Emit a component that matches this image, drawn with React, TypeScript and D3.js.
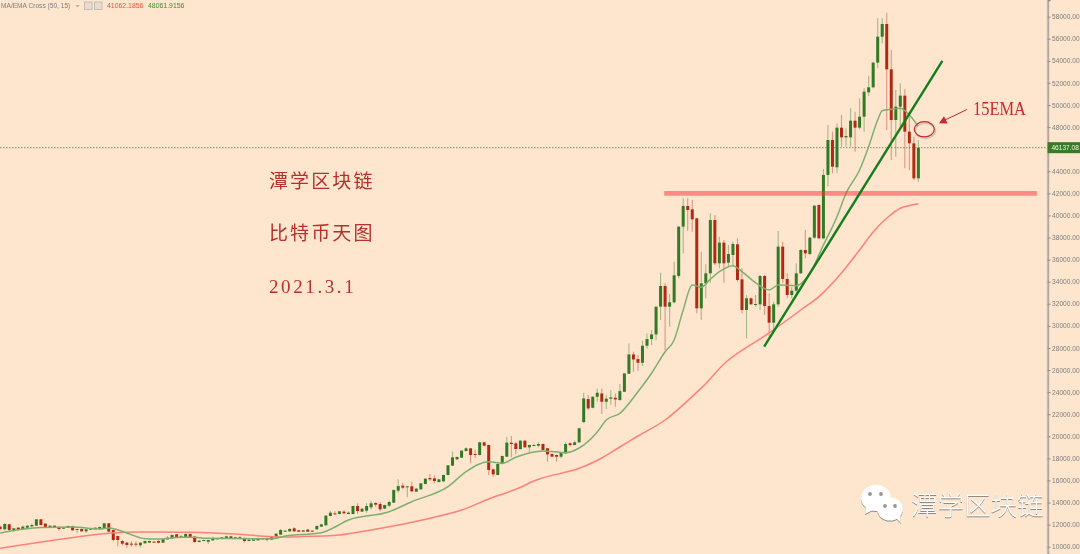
import { useEffect, useRef } from 'react';
import * as d3 from 'd3';

type Candle = [number, number, number, number];

const width = 1080;
const height = 554;

// open, high, low, close, one row per daily bar
const candles: Candle[] = [
  [11815, 11900, 11500, 11603], [11573, 12150, 11500, 12056], [12026, 12080, 11450, 11513], [11483, 11700, 11400, 11664],
  [11724, 11760, 11480, 11543], [11603, 11950, 11510, 11815], [11724, 11960, 11690, 11905], [11845, 12100, 11730, 11966],
  [11905, 12520, 11880, 12479], [12479, 12500, 11930, 11966], [12086, 12150, 11720, 11754], [11754, 11950, 11720, 11905],
  [11905, 11940, 11730, 11754], [11784, 11900, 11450, 11603], [11634, 11790, 11600, 11754], [11724, 11920, 11700, 11875],
  [11875, 11900, 11450, 11483], [11513, 11640, 11210, 11603], [11603, 11640, 11370, 11392], [11392, 11610, 11270, 11573],
  [11543, 11700, 11500, 11664], [11573, 11750, 11540, 11724], [11603, 11820, 11570, 11784], [11664, 12170, 11630, 12117],
  [12117, 12150, 11330, 11362], [11513, 11530, 10490, 10607], [10969, 11000, 10030, 10607], [10516, 10620, 10090, 10275],
  [10366, 10450, 9910, 10154], [10275, 10460, 10000, 10184], [10275, 10460, 10000, 10215], [10124, 10400, 9940, 10366],
  [10305, 10550, 10280, 10516], [10366, 10560, 10340, 10516], [10456, 10500, 10360, 10396], [10516, 10610, 10300, 10366],
  [10365, 10730, 10330, 10697], [10667, 10970, 10640, 10818], [10757, 11100, 10730, 11059], [11120, 11150, 10820, 10848],
  [10818, 11090, 10790, 10939], [10848, 11210, 10820, 11150], [11150, 11180, 10820, 10848], [10908, 11000, 10365, 10425],
  [10425, 10600, 10400, 10546], [10516, 10640, 10480, 10606], [10455, 10640, 10244, 10606], [10576, 10900, 10550, 10757],
  [10667, 10820, 10640, 10788], [10697, 10880, 10670, 10848], [10757, 10990, 10720, 10939], [10939, 10990, 10720, 10757],
  [10727, 10890, 10690, 10848], [10848, 10970, 10690, 10727], [10788, 10830, 10370, 10516], [10516, 10680, 10480, 10637],
  [10546, 10710, 10510, 10667], [10576, 10830, 10540, 10788], [10667, 10790, 10640, 10757], [10788, 10830, 10500, 10637],
  [10637, 10990, 10600, 10939], [10908, 11220, 10880, 11180], [11090, 11600, 11060, 11512], [11361, 11480, 11330, 11452],
  [11391, 11700, 11360, 11603], [11663, 11754, 11360, 11391], [11482, 11510, 11330, 11361], [11361, 11510, 11330, 11482],
  [11542, 11600, 11330, 11361], [11361, 11480, 11330, 11452], [11573, 11920, 11520, 11875], [11814, 12080, 11780, 12025],
  [11935, 12870, 11900, 12810], [12780, 13250, 12750, 13082], [13020, 13200, 12900, 12950], [12962, 13240, 12930, 13203],
  [13173, 13330, 12990, 13022], [12962, 13200, 12930, 13082], [12962, 13720, 12930, 13686], [13686, 13928, 12962, 13233],
  [13173, 13480, 13140, 13445], [13264, 13928, 13082, 13686], [13565, 14170, 13384, 13928], [13958, 14048, 13626, 13807],
  [13867, 14048, 13203, 13384], [13445, 13810, 13400, 13777], [13716, 14170, 13565, 14048], [13988, 15170, 13950, 15135],
  [15075, 16101, 14894, 15497], [15528, 15800, 15196, 15347], [15377, 15530, 14471, 15467], [15467, 15890, 14924, 15014],
  [14984, 15300, 14950, 15256], [15196, 15780, 15160, 15739], [15679, 16200, 15650, 16162], [16222, 16585, 15950, 16101],
  [16192, 16430, 15739, 15950], [15860, 16150, 15800, 16101], [15920, 16530, 15890, 16494], [16494, 17400, 16460, 17369],
  [17339, 18607, 17300, 18094], [17912, 18160, 17880, 18124], [18063, 18730, 18030, 18697], [18667, 19000, 18630, 18909],
  [18909, 18950, 17550, 18305], [18395, 18758, 18063, 18305], [18305, 19500, 18270, 19452], [19452, 19500, 19100, 19150],
  [19211, 19250, 16494, 16946], [17007, 17050, 16343, 16554], [16494, 17530, 16460, 17490], [17490, 18250, 17450, 18214],
  [18154, 19965, 18120, 19422], [19422, 20026, 18094, 19301], [19362, 19500, 18365, 18848], [18848, 19640, 18800, 19603],
  [19603, 19640, 18960, 19000], [19000, 19250, 18546, 19211], [19120, 19300, 19090, 19211], [19150, 19452, 19000, 19301],
  [19301, 19340, 18720, 18758], [18909, 18950, 17701, 18365], [18395, 18450, 18120, 18154], [18305, 18340, 17701, 18154],
  [18154, 18550, 18000, 18516], [18456, 19452, 18420, 19301], [19362, 19452, 19060, 19211], [19211, 19600, 19180, 19452],
  [19452, 20800, 19420, 20720], [21285, 23942, 21200, 23428], [23368, 23730, 22372, 22523], [22583, 23620, 22550, 23579],
  [23579, 24334, 23127, 23942], [23881, 24334, 22010, 23127], [23127, 23730, 22463, 23398], [23398, 24183, 22825, 23519],
  [23489, 23881, 22674, 23338], [23278, 24727, 23240, 24093], [24032, 25730, 24000, 25693], [25663, 28410, 25630, 27414],
  [27414, 27655, 25844, 26961], [26991, 27353, 25935, 26659], [26659, 28652, 26357, 28199], [28199, 29317, 27957, 28802],
  [28802, 29617, 28259, 29225], [29225, 31800, 28700, 31731], [31740, 34820, 30532, 33612], [33612, 33853, 27815, 31740],
  [31740, 32887, 29929, 32132], [32132, 35816, 32040, 34578], [34518, 39020, 34306, 38986], [38986, 41552, 36570, 40857],
  [40857, 41552, 38623, 40495], [40556, 41401, 38533, 39650], [39740, 39790, 31136, 31589], [31589, 36722, 30532, 33853],
  [33853, 35574, 32490, 34759], [34759, 40193, 33900, 39590], [39590, 40042, 35514, 35665], [35665, 38080, 35212, 37537],
  [37537, 37778, 33914, 35665], [35725, 37325, 35363, 36510], [36420, 37627, 35423, 37416], [37386, 37929, 34004, 34155],
  [34216, 35212, 31136, 31438], [31438, 32796, 28872, 32495], [32495, 32600, 31900, 31951], [31921, 32796, 31740, 31980],
  [31951, 34608, 31438, 34518], [34518, 34608, 30985, 31800], [31800, 32948, 29023, 30291], [30291, 32190, 29627, 31951],
  [31951, 38593, 31740, 37174], [37174, 37627, 33854, 34246], [34246, 34759, 32495, 32796], [32796, 33552, 32495, 33189],
  [33189, 35665, 32948, 34759], [34759, 36950, 34700, 36872], [36872, 38684, 36118, 36570], [36510, 38080, 36400, 37989],
  [37989, 40950, 37900, 40888], [40948, 41000, 37880, 37929], [37928, 44208, 37850, 43665], [43663, 48192, 42607, 46833],
  [46833, 47588, 43814, 44418], [44358, 48343, 43814, 47950], [47950, 49097, 46229, 47075], [47075, 47890, 46229, 47195],
  [47075, 49701, 46229, 48584], [48584, 49400, 45777, 47950], [47950, 50607, 47799, 48946], [48946, 51513, 47588, 51211],
  [51150, 52630, 50818, 51603], [51603, 53928, 51513, 53837], [53837, 57853, 53324, 56192], [56192, 57853, 55588, 57339],
  [57339, 58366, 47739, 53234], [53234, 54985, 45022, 48645], [48645, 51365, 45324, 49852], [49852, 51965, 47739, 50849],
  [50849, 51422, 44267, 47588], [47588, 48945, 44116, 46531], [46531, 47135, 43210, 43361], [43361, 46800, 43060, 46137],
];

// bar index, value
const ema15: [number, number][] = [
  [0, 11241], [9, 11739], [16, 11784], [22, 11603], [24, 11694], [28, 11241], [32, 10725], [35, 10697], [40, 10851],
  [43, 10851], [45, 10761], [57, 10725], [60, 10725], [63, 10969], [71, 11268], [73, 11576], [77, 12418], [86, 13170],
  [91, 14076], [99, 15434], [103, 16793], [108, 17698], [111, 17554], [114, 18097], [120, 18667], [125, 18514],
  [128, 18939], [132, 20389], [134, 21475], [137, 22082], [141, 24038], [144, 25705], [147, 27661], [149, 28721],
  [151, 31438], [153, 33702], [155, 33494], [157, 34218], [159, 34907], [162, 35450], [164, 34907], [167, 33910],
  [170, 33249], [172, 33702], [176, 33639], [179, 34762], [182, 37325], [185, 39888], [187, 42007], [190, 44118],
  [192, 46228], [194, 48646], [195, 49489], [197, 49615], [199, 49705], [201, 49099], [203, 48062],
];

const ma50: [number, number][] = [
  [0, 9855], [24, 11214], [33, 11331], [41, 11304], [52, 11150], [60, 10906], [66, 10906], [75, 11060], [82, 11512],
  [91, 12210], [102, 13324], [108, 14320], [114, 15199], [119, 16104], [128, 17101], [133, 18034], [137, 19030],
  [141, 20026], [147, 21475], [155, 24373], [161, 26909], [170, 29355], [177, 31438], [181, 32643],
  [186, 34789], [190, 36872], [193, 38503], [196, 39743], [199, 40649], [203, 41062],
];

// hand drawn annotations: bar index, price
const trendLine: [number, number][] = [[168.9, 28114], [208.3, 53990]];
const supportPrice = 42000;
const supportFrom = 146.8;
const supportTo = 229.2;
const lastPrice = 46137.08;
const priceTicks = d3.range(10000, 58001, 2000);

const titleLines = ['潭学区块链', '比特币天图'];
const dateLabel = '2021.3.1';
const indicatorName = 'MA/EMA Cross (50, 15)';
const maLabel = '41062.1856';
const emaLabel = '48061.9156';

const upColor = '#337a24';
const downColor = '#b02a12';
const annotationRed = '#c62a2f';

function drawChart(svgElement: SVGSVGElement) {
  const svg = d3.select(svgElement);
  svg.selectAll('*').remove();
  svg.attr('viewBox', `0 0 ${width} ${height}`);

  const x = d3.scaleLinear().domain([0, 203]).range([0.2, 918.4]);
  const y = d3.scaleLinear().domain([9339, 59512]).range([554, 0]);
  const axisX = 1047.6;
  const bodyWidth = 3;
  const soft = 'blur(0.35px)';

  svg.append('rect').attr('width', width).attr('height', height).attr('fill', '#fde5ce');

  // last price line
  svg
    .append('line')
    .attr('x1', 0)
    .attr('x2', axisX)
    .attr('y1', y(lastPrice))
    .attr('y2', y(lastPrice))
    .attr('stroke', '#5f7f4c')
    .attr('stroke-width', 0.8)
    .attr('stroke-dasharray', '1.5 1.5');

  const bars = svg.append('g').style('filter', soft).selectAll('g').data(candles).join('g');

  bars
    .append('line')
    .attr('x1', (_: Candle, i: number) => x(i))
    .attr('x2', (_: Candle, i: number) => x(i))
    .attr('y1', (d: Candle) => y(d[1]))
    .attr('y2', (d: Candle) => y(d[2]))
    .attr('stroke', (d: Candle) => (d[3] >= d[0] ? upColor : downColor))
    .attr('stroke-opacity', 0.42)
    .attr('stroke-width', 1.1);

  bars
    .append('rect')
    .attr('x', (_: Candle, i: number) => x(i) - bodyWidth / 2)
    .attr('y', (d: Candle) => y(Math.max(d[0], d[3])))
    .attr('width', bodyWidth)
    .attr('height', (d: Candle) => Math.max(1, Math.abs(y(d[0]) - y(d[3]))))
    .attr('fill', (d: Candle) => (d[3] >= d[0] ? upColor : downColor));

  const line = d3
    .line<[number, number]>()
    .x((d) => x(d[0]))
    .y((d) => y(d[1]));

  svg
    .append('path')
    .attr('d', line.curve(d3.curveCatmullRom)(ma50))
    .attr('fill', 'none')
    .attr('stroke', '#ff8078')
    .attr('stroke-width', 1.5);

  svg
    .append('path')
    .attr('d', line.curve(d3.curveMonotoneX)(ema15))
    .attr('fill', 'none')
    .attr('stroke', '#7cb06e')
    .attr('stroke-width', 1.5);

  // support band
  svg
    .append('line')
    .attr('x1', x(supportFrom))
    .attr('x2', x(supportTo))
    .attr('y1', y(supportPrice))
    .attr('y2', y(supportPrice))
    .attr('stroke', '#ff2f3c')
    .attr('stroke-opacity', 0.5)
    .attr('stroke-width', 4.6);

  // trend line
  svg
    .append('line')
    .attr('x1', x(trendLine[0][0]))
    .attr('y1', y(trendLine[0][1]))
    .attr('x2', x(trendLine[1][0]))
    .attr('y2', y(trendLine[1][1]))
    .attr('stroke', '#12801a')
    .attr('stroke-width', 2.4);

  // price axis
  const axis = svg
    .append('g')
    .attr('transform', `translate(${axisX},0)`)
    .style('filter', soft)
    .call(
      d3
        .axisRight(y)
        .tickValues(priceTicks)
        .tickFormat((v: d3.NumberValue) => d3.format('.2f')(Number(v)))
        .tickSize(3)
        .tickPadding(1.5)
    );
  axis.select('.domain').attr('stroke', '#8d8d8d').attr('stroke-width', 1.4);
  axis.selectAll('.tick line').attr('stroke', '#8d8d8d');
  axis
    .selectAll('.tick text')
    .attr('fill', '#7f7f7d')
    .attr('font-family', 'Liberation Sans')
    .attr('font-size', 6.6);

  svg
    .append('rect')
    .attr('x', axisX)
    .attr('y', y(lastPrice) - 5.5)
    .attr('width', width - axisX)
    .attr('height', 11)
    .attr('fill', '#387a25');
  svg
    .append('text')
    .attr('x', axisX + 3.8)
    .attr('y', y(lastPrice) + 2.4)
    .attr('fill', '#fdf3e4')
    .attr('font-family', 'Liberation Sans')
    .attr('font-size', 6.6)
    .style('filter', soft)
    .text(lastPrice.toFixed(2));

  // indicator header
  const header = svg
    .append('g')
    .attr('font-family', 'Liberation Sans')
    .attr('font-size', 6.9)
    .style('filter', soft);
  header.append('text').attr('x', 1).attr('y', 8).attr('fill', '#7d7d7d').attr('font-size', 6.6).text(indicatorName);
  header.append('path').attr('d', 'M75.5 5h4l-2 2.5z').attr('fill', '#b5b0a8');
  header
    .selectAll('rect')
    .data([84.5, 94.5])
    .join('rect')
    .attr('x', (d: number) => d)
    .attr('y', 2)
    .attr('width', 7.5)
    .attr('height', 7.5)
    .attr('fill', '#eadccc')
    .attr('stroke', '#c4bdb3');
  header.append('text').attr('x', 107).attr('y', 8).attr('fill', '#f0504a').text(maLabel);
  header.append('text').attr('x', 148).attr('y', 8).attr('fill', '#3c9030').text(emaLabel);

  // text notes
  const notes = svg.append('g').attr('fill', '#b3322c');
  titleLines.forEach((t, i) => {
    notes
      .append('text')
      .attr('x', 269)
      .attr('y', 188 + i * 52)
      .attr('font-family', 'Noto Sans CJK SC')
      .attr('font-size', 19)
      .attr('letter-spacing', 2.1)
      .text(t);
  });
  notes
    .append('text')
    .attr('x', 269)
    .attr('y', 292.5)
    .attr('font-family', 'Liberation Serif')
    .attr('font-size', 19)
    .attr('letter-spacing', 2.6)
    .text(dateLabel);

  // 15EMA callout
  svg
    .append('text')
    .attr('x', 973)
    .attr('y', 114.5)
    .attr('font-family', 'Liberation Serif')
    .attr('font-size', 18)
    .attr('textLength', 53)
    .attr('lengthAdjust', 'spacingAndGlyphs')
    .attr('fill', annotationRed)
    .text('15EMA');
  svg
    .append('line')
    .attr('x1', 967)
    .attr('y1', 109.5)
    .attr('x2', 945)
    .attr('y2', 120)
    .attr('stroke', annotationRed)
    .attr('stroke-width', 1);
  svg.append('path').attr('d', 'M939 123.3l5-7 3.6 7.2z').attr('fill', annotationRed);
  svg
    .append('ellipse')
    .attr('cx', 925.3)
    .attr('cy', 130.8)
    .attr('rx', 10)
    .attr('ry', 7.6)
    .attr('fill', 'none')
    .attr('stroke', '#b8b4ac')
    .attr('stroke-opacity', 0.7)
    .attr('stroke-width', 1.6);
  svg
    .append('ellipse')
    .attr('cx', 924.3)
    .attr('cy', 129.3)
    .attr('rx', 10)
    .attr('ry', 7.6)
    .attr('fill', 'none')
    .attr('stroke', annotationRed)
    .attr('stroke-width', 1.2);

  // watermark
  const mark = svg.append('g').style('filter', 'drop-shadow(0.8px 1px 0.6px #8f8a84)');
  mark.append('ellipse').attr('cx', 876).attr('cy', 498).attr('rx', 15).attr('ry', 13).attr('fill', '#fff');
  mark.append('path').attr('d', 'M866 507l-1 7 8-4z').attr('fill', '#fff');
  mark.append('ellipse').attr('cx', 890).attr('cy', 509).attr('rx', 13).attr('ry', 11.5).attr('fill', '#fff');
  mark.append('path').attr('d', 'M896 518l5 5-1-8z').attr('fill', '#fff');
  svg
    .append('g')
    .selectAll('circle')
    .data([
      [870, 494],
      [881, 494],
      [885, 506],
      [895, 506],
    ])
    .join('circle')
    .attr('cx', (d: number[]) => d[0])
    .attr('cy', (d: number[]) => d[1])
    .attr('r', 1.9)
    .attr('fill', '#9a948c');
  mark
    .append('text')
    .attr('x', 911)
    .attr('y', 515)
    .attr('font-family', 'Noto Sans CJK SC')
    .attr('font-weight', 300)
    .attr('font-size', 26.5)
    .attr('fill', '#fff')
    .text(titleLines[0]);
}

export default function App() {
  const svgRef = useRef<SVGSVGElement>(null);

  useEffect(() => {
    if (svgRef.current) {
      drawChart(svgRef.current);
    }
  }, []);

  return (
    <svg
      ref={svgRef}
      width={width}
      height={height}
      style={{ position: 'absolute', left: 0, top: 0, display: 'block' }}
    />
  );
}
